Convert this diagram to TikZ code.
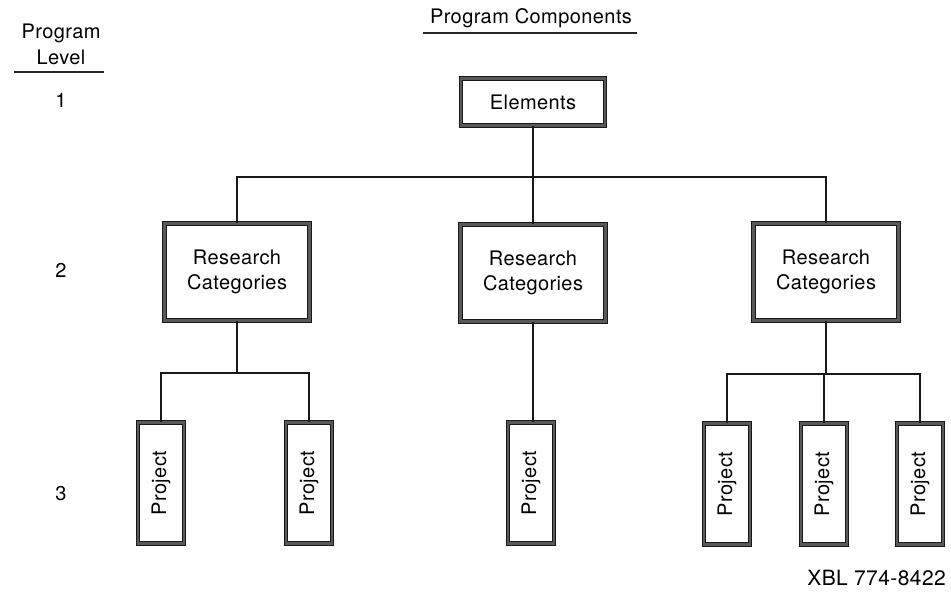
\documentclass[tikz,border=0pt]{standalone}
\usepackage{fontspec}
\setmainfont{TeX Gyre Heros}[LetterSpace=2]
\begin{document}
\begin{tikzpicture}[x=1pt,y=-1pt,
  every node/.style={font=\fontsize{20}{25}\selectfont, inner sep=0pt},
  box/.style={draw=black!90, line width=1.1pt, double=black!65, double distance=2.4pt,
              fill=white, align=center},
  elembox/.style={box, minimum width=144pt, minimum height=47pt},
  catbox/.style={box, minimum width=145pt, minimum height=97pt},
  projbox/.style={box, minimum width=46pt, minimum height=121pt},
  link/.style={draw=black!90, line width=1.3pt},
  rule/.style={draw=black!85, line width=1.2pt}]
\useasboundingbox (0,0) rectangle (951,592);

% column headings
\node (hlev1) at (61,33) {Program};
\node (hlev2) at (61,57) {Level};
\draw[rule] (14,72) -- (104,72);
\node (hcomp) at (531,18) {Program Components};
\draw[rule] (423,33) -- (637,33);

% level numbers
\node (l1) at (61,100) {1};
\node (l2) at (61,270) {2};
\node (l3) at (61,494) {3};

% level 1
\node[elembox] (el) at (533,102) {Elements};

% level 2
\node[catbox] (r1) at (237,272) {Research\\Categories};
\node[catbox] (r2) at (533,273) {Research\\Categories};
\node[catbox] (r3) at (826,272) {Research\\Categories};

% level 3
\node[projbox] (p1) at (161,483) {\rotatebox{90}{Project}};
\node[projbox] (p2) at (309,483) {\rotatebox{90}{Project}};
\node[projbox] (p3) at (531,483) {\rotatebox{90}{Project}};
\node[projbox] (p4) at (727,484) {\rotatebox{90}{Project}};
\node[projbox] (p5) at (824,484) {\rotatebox{90}{Project}};
\node[projbox] (p6) at (920,484) {\rotatebox{90}{Project}};

% junctions
\coordinate (j1) at (533,177);
\coordinate (j2) at (237,373);
\coordinate (j3) at (825,374);

% connectors
\draw[link] (el.south) -- (j1);
\draw[link] (r1.north) |- (j1) -| (r3.north);
\draw[link] (j1) -- (r2.north);
\draw[link] (r1.south) -- (j2);
\draw[link] (p1.north) |- (j2) -| (p2.north);
\draw[link] (r2.south) -- (r2.south |- p3.north);
\draw[link] (r3.south) -- (r3.south |- j3);
\draw[link] (p4.north) |- (j3) -| (p6.north);
\draw[link] (p5.north) -- (p5.north |- j3);

% drawing number
\node[anchor=east, font=\fontsize{21}{25}\selectfont] (ref) at (946,578) {XBL 774-8422};
\end{tikzpicture}
\end{document}
